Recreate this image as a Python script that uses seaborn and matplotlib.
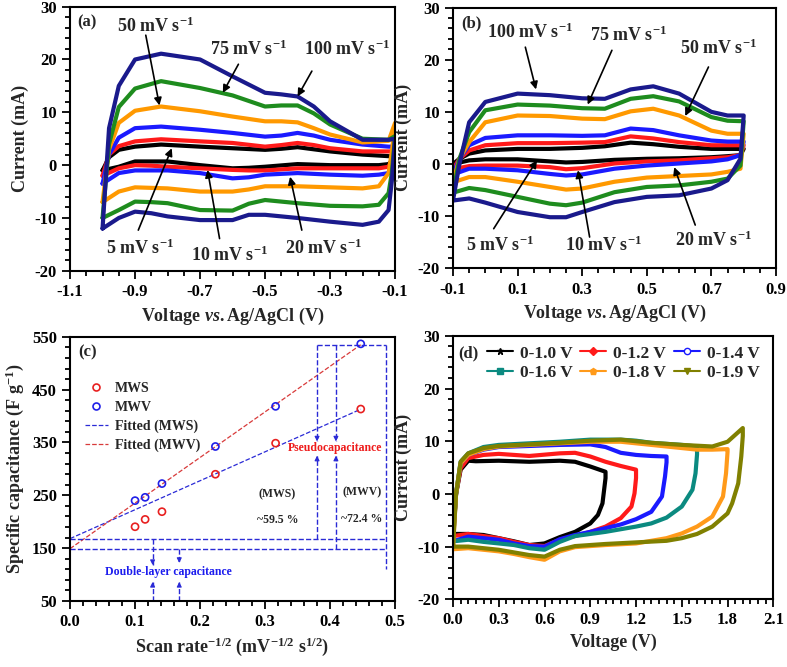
import matplotlib
matplotlib.use("Agg")
import numpy as np
import matplotlib.pyplot as plt
from matplotlib.lines import Line2D
from matplotlib.ticker import FixedLocator, FormatStrFormatter
import seaborn as sns

sns.set_style("ticks")
plt.rcParams['font.family'] = ['Liberation Serif', 'DejaVu Serif']
plt.rcParams['font.weight'] = 'bold'
plt.rcParams['axes.labelweight'] = 'bold'
plt.rcParams['axes.unicode_minus'] = False
plt.rcParams['mathtext.fontset'] = 'custom'
plt.rcParams['mathtext.rm'] = 'Liberation Serif:bold'
plt.rcParams['mathtext.it'] = 'Liberation Serif:italic:bold'
plt.rcParams['mathtext.bf'] = 'Liberation Serif:bold'

# ---- data ----
scan_rates = ['5', '10', '20', '50', '75', '100']
rate_colors = ['black', '#ff1a1a', '#1a1aff', '#ff9900', '#1e8c1e', '#1a1a8c']

# (a) MWS, forward (upper) and reverse (lower) sweeps
a_up_v = [-1.0, -0.98, -0.95, -0.9, -0.82, -0.7, -0.6, -0.5, -0.45, -0.4, -0.35, -0.3, -0.2, -0.12, -0.1]
a_up_5 = [-1, 1.5, 2.9, 3.5, 3.9, 3.5, 3.2, 2.9, 3.1, 3.4, 3.0, 2.6, 2.0, 1.7, 1.6]
a_up_10 = [-2, 2, 3.6, 4.5, 4.9, 4.5, 4.2, 3.5, 3.8, 4.2, 3.8, 3.2, 2.6, 2.6, 2.6]
a_up_20 = [-3.5, 2, 5.2, 7.0, 7.3, 6.7, 6.1, 5.4, 5.6, 6.1, 5.6, 4.8, 3.9, 3.5, 3.5]
a_up_50 = [-7, 3, 8, 10.3, 11.1, 10.2, 9.2, 8.3, 8.3, 8.1, 7.0, 5.8, 4.3, 4.6, 8.0]
a_up_75 = [-10, 4, 11, 14.5, 15.9, 14.6, 13.2, 11.1, 11.3, 11.3, 9.8, 7.7, 5.0, 4.8, 5.5]
a_up_100 = [-12, 7, 15, 20, 21.1, 20, 16.8, 13.7, 13.4, 13.0, 11.1, 8.3, 4.8, 4.8, 5.0]

a_lo_v = [-0.1, -0.11, -0.12, -0.15, -0.2, -0.3, -0.4, -0.5, -0.55, -0.6, -0.7, -0.8, -0.85, -0.9, -0.95, -1.0]
a_lo_5 = [1.6, 0.8, 0.2, 0.0, 0.0, 0.0, 0.2, -0.3, -0.5, -0.6, 0.0, 0.7, 0.7, 0.7, -0.3, -1]
a_lo_10 = [2.6, 1.0, -0.3, -0.6, -0.6, -0.6, -0.6, -1.0, -1.0, -0.9, -0.6, -0.3, -0.1, 0.0, -0.6, -2]
a_lo_20 = [3.5, 0.5, -1.5, -1.8, -2.0, -1.8, -1.5, -1.8, -2.3, -2.5, -1.5, -1.0, -1.0, -1.0, -1.5, -3.5]
a_lo_50 = [8.0, 2.5, -1.5, -4.0, -4.4, -4.2, -4.0, -4.0, -4.6, -5.0, -5.0, -4.4, -4.3, -4.2, -5.0, -7]
a_lo_75 = [5.5, -1.5, -5.3, -7.5, -7.8, -7.7, -7.2, -6.6, -7.3, -8.6, -8.5, -7.2, -7.0, -6.9, -8.5, -10]
a_lo_100 = [5.0, -3, -8.5, -10.7, -11.3, -10.7, -10.0, -9.4, -9.4, -10.4, -10.4, -9.7, -9.1, -8.8, -10, -12]

# (b) MWV
b_up_v = [-0.1, -0.08, -0.05, 0.0, 0.1, 0.2, 0.3, 0.37, 0.45, 0.52, 0.6, 0.7, 0.75, 0.8]
b_up_5 = [0, 1, 2.0, 2.6, 2.9, 2.9, 3.1, 3.4, 4.1, 3.8, 3.3, 2.9, 2.9, 2.9]
b_up_10 = [-1, 1, 2.6, 3.6, 4.0, 4.0, 4.1, 4.2, 5.3, 4.9, 4.2, 3.6, 3.6, 3.6]
b_up_20 = [-2, 1, 3.6, 5.0, 5.5, 5.5, 5.4, 5.5, 6.8, 6.5, 5.5, 4.5, 4.3, 4.3]
b_up_50 = [-3.5, 1, 4.2, 8.0, 9.3, 9.2, 8.7, 8.6, 10.1, 10.6, 9.3, 6.4, 5.8, 5.8]
b_up_75 = [-5.5, 1, 6.1, 10.3, 11.4, 11.2, 10.7, 10.6, 12.5, 13.0, 12.0, 9.0, 8.3, 8.2]
b_up_100 = [-7, 0, 8, 11.9, 13.5, 13.2, 12.6, 12.5, 14.3, 14.9, 13.5, 10.0, 9.3, 9.3]

b_lo_v = [0.8, 0.79, 0.75, 0.7, 0.6, 0.5, 0.4, 0.3, 0.25, 0.2, 0.1, 0.0, -0.05, -0.1]
b_lo_5 = [2.9, 1.7, 1.5, 1.3, 1.1, 1.0, 0.8, 0.4, 0.3, 0.5, 0.9, 0.9, 0.7, 0]
b_lo_10 = [3.6, 1.7, 1.3, 1.1, 0.7, 0.5, 0.1, -0.8, -1.0, -0.6, -0.3, -0.3, -0.4, -1]
b_lo_20 = [4.3, 1.7, 0.9, 0.5, 0.1, -0.3, -0.9, -2.0, -2.2, -1.9, -1.2, -0.9, -0.9, -2]
b_lo_50 = [5.8, -0.9, -1.5, -2.0, -2.3, -2.6, -3.4, -4.7, -4.9, -4.4, -3.4, -2.5, -2.5, -3.5]
b_lo_75 = [8.2, -0.3, -2.8, -3.4, -4.1, -4.4, -5.4, -7.4, -7.9, -7.6, -6.3, -5.0, -4.6, -5.5]
b_lo_100 = [9.3, 1.0, -3.1, -4.7, -6.0, -6.3, -7.3, -9.2, -10.2, -10.2, -9.2, -7.4, -6.6, -7]

# (c) specific capacitance vs scan rate^-1/2
c_x = [0.1, 0.1155, 0.1414, 0.2236, 0.3162, 0.4472]
c_mws = [190.5, 204.4, 219, 289.9, 348.7, 413.3]
c_mwv = [239.9, 246.2, 272.2, 342.4, 418.4, 536.7]
fit_x = [0.0, 0.4472]
fit_mws = [168, 413]
fit_mwv = [149, 535]

# (d) full cell at different voltage windows
d_labels = ['0-1.0 V', '0-1.2 V', '0-1.4 V', '0-1.6 V', '0-1.8 V', '0-1.9 V']
d_colors = ['black', '#ff1a1a', '#1a1aff', '#0b8a80', '#ff9a1a', '#808000']
d_markers = ['*', 'D', 'o', 's', 'p', 'v']
d10_v = [0, 0.02, 0.05, 0.1, 0.15, 0.3, 0.5, 0.7, 0.8, 0.9, 1.0, 1.0, 0.98, 0.95, 0.9, 0.8, 0.7, 0.6, 0.5, 0.4, 0.3, 0.2, 0.1, 0.02, 0]
d10_i = [-8, 0, 4.6, 6.3, 6.2, 6.3, 6.1, 6.3, 6.1, 5.2, 4.2, 3.0, -1.8, -4.0, -5.6, -7.2, -8.2, -9.4, -9.7, -9.0, -8.4, -7.8, -7.6, -7.6, -8]
d12_v = [0, 0.02, 0.05, 0.1, 0.2, 0.3, 0.5, 0.7, 0.8, 0.9, 1.0, 1.1, 1.2, 1.2, 1.19, 1.17, 1.1, 1.0, 0.9, 0.8, 0.7, 0.6, 0.5, 0.4, 0.3, 0.2, 0.1, 0]
d12_i = [-8, 0, 4.9, 6.8, 7.4, 7.6, 7.2, 7.7, 7.8, 7.1, 6.1, 5.3, 4.6, 3.0, 0.1, -2.4, -4.6, -6.2, -7.2, -8.0, -8.7, -9.9, -9.7, -9.1, -8.4, -8.0, -7.6, -8]
d14_v = [0, 0.02, 0.05, 0.1, 0.2, 0.3, 0.5, 0.7, 0.9, 1.0, 1.1, 1.2, 1.3, 1.4, 1.4, 1.39, 1.37, 1.3, 1.2, 1.1, 1.0, 0.9, 0.8, 0.7, 0.6, 0.5, 0.4, 0.3, 0.2, 0.1, 0]
d14_i = [-9, 0, 5.8, 7.4, 8.4, 8.9, 9.1, 9.3, 9.4, 8.9, 7.8, 7.4, 7.2, 7.1, 6.0, 3.3, -0.5, -3.4, -4.8, -5.8, -6.5, -7.2, -7.8, -8.6, -10.0, -9.9, -9.4, -8.7, -8.4, -8.1, -9]
d16_v = [0, 0.02, 0.05, 0.1, 0.2, 0.3, 0.5, 0.7, 0.9, 1.1, 1.2, 1.3, 1.4, 1.5, 1.6, 1.6, 1.59, 1.57, 1.5, 1.4, 1.3, 1.2, 1.0, 0.8, 0.7, 0.6, 0.5, 0.4, 0.3, 0.2, 0.1, 0]
d16_i = [-9, 0, 6.1, 7.7, 8.9, 9.3, 9.6, 9.9, 10.3, 10.3, 10.1, 9.7, 9.5, 9.3, 9.0, 7.5, 3.9, 0.8, -2.4, -4.5, -5.6, -6.2, -7.2, -8.0, -9.1, -10.6, -10.3, -9.7, -9.4, -9.1, -8.7, -9]
d18_v = [0, 0.02, 0.05, 0.1, 0.2, 0.3, 0.5, 0.7, 0.9, 1.1, 1.3, 1.5, 1.6, 1.7, 1.8, 1.8, 1.79, 1.77, 1.7, 1.6, 1.5, 1.4, 1.2, 1.0, 0.8, 0.7, 0.6, 0.5, 0.4, 0.3, 0.2, 0.1, 0]
d18_i = [-10.5, 0, 5.8, 7.4, 8.5, 9.0, 9.3, 9.6, 9.9, 9.9, 9.3, 8.7, 8.4, 8.4, 8.5, 8.0, 3.9, -0.5, -4.3, -6.2, -7.5, -8.4, -9.4, -9.7, -10.1, -10.9, -12.5, -12.0, -11.4, -10.9, -10.6, -10.3, -10.5]
d19_v = [0, 0.02, 0.05, 0.1, 0.2, 0.3, 0.5, 0.7, 0.9, 1.1, 1.3, 1.5, 1.7, 1.8, 1.85, 1.9, 1.9, 1.89, 1.87, 1.83, 1.8, 1.7, 1.6, 1.5, 1.4, 1.2, 1.0, 0.8, 0.7, 0.6, 0.5, 0.4, 0.3, 0.2, 0.1, 0]
d19_i = [-10, 0, 6.1, 7.7, 8.7, 9.1, 9.4, 9.7, 10.1, 10.3, 9.7, 9.3, 9.0, 9.9, 11.2, 12.5, 11.0, 7.1, 2.0, -1.8, -3.7, -6.2, -7.6, -8.4, -8.9, -9.2, -9.5, -9.9, -10.6, -11.9, -11.6, -11.1, -10.6, -10.3, -10.0, -10]

a_up = [a_up_5, a_up_10, a_up_20, a_up_50, a_up_75, a_up_100]
a_lo = [a_lo_5, a_lo_10, a_lo_20, a_lo_50, a_lo_75, a_lo_100]
b_up = [b_up_5, b_up_10, b_up_20, b_up_50, b_up_75, b_up_100]
b_lo = [b_lo_5, b_lo_10, b_lo_20, b_lo_50, b_lo_75, b_lo_100]
d_v = [d10_v, d12_v, d14_v, d16_v, d18_v, d19_v]
d_i = [d10_i, d12_i, d14_i, d16_i, d18_i, d19_i]


def style_axes(ax, xticks, xminor, yticks, yminor, xlim, ylim, xfmt):
    ax.set_xlim(*xlim)
    ax.set_ylim(*ylim)
    ax.xaxis.set_major_locator(FixedLocator(xticks))
    ax.xaxis.set_minor_locator(FixedLocator(xminor))
    ax.yaxis.set_major_locator(FixedLocator(yticks))
    ax.yaxis.set_minor_locator(FixedLocator(yminor))
    ax.xaxis.set_major_formatter(FormatStrFormatter(xfmt))
    ax.tick_params(which='both', direction='out', top=False, right=False,
                   width=1.3, labelsize=12, colors='black')
    ax.tick_params(which='major', length=6)
    ax.tick_params(which='minor', length=3.5)
    for s in ax.spines.values():
        s.set_linewidth(1.5)
        s.set_color('black')
    for lab in ax.get_xticklabels() + ax.get_yticklabels():
        lab.set_fontweight('bold')


def draw_cv(ax, up_v, ups, lo_v, los):
    for up, lo, col in zip(ups, los, rate_colors):
        sns.lineplot(x=up_v + lo_v, y=up + lo, sort=False, estimator=None,
                     color=col, lw=3.0, ax=ax)


def rate_note(ax, rate, text_xy, tail, head):
    ax.annotate('', xy=head, xytext=tail,
                arrowprops=dict(arrowstyle='-|>', color='black', lw=1.2,
                                mutation_scale=11, shrinkA=0, shrinkB=0))
    ax.text(text_xy[0], text_xy[1], rate + r' mV s$^{-1}$', fontsize=13,
            ha='center', va='center', fontweight='bold')


fig = plt.figure(figsize=(7.87, 6.67), dpi=100)
ax_a = fig.add_axes([0.089, 0.594, 0.413, 0.396])
ax_b = fig.add_axes([0.5756, 0.5977, 0.4104, 0.391])
ax_c = fig.add_axes([0.089, 0.099, 0.413, 0.396])
ax_d = fig.add_axes([0.5756, 0.1015, 0.407, 0.395])

cur_ticks = np.arange(-20, 31, 10)
cur_minor = np.arange(-20, 31, 2)

# ---- (a) ----
draw_cv(ax_a, a_up_v, a_up, a_lo_v, a_lo)
style_axes(ax_a, np.arange(-1.1, -0.05, 0.2), np.arange(-1.1, -0.09, 0.05),
           cur_ticks, cur_minor, (-1.1, -0.1), (-20, 30), '%.1f')
ax_a.set_xlabel(r'Voltage $\mathit{vs.}$Ag/AgCl (V)', fontsize=13)
ax_a.set_ylabel('Current (mA)', fontsize=13)
ax_a.text(0.023, 0.94, '(a)', transform=ax_a.transAxes, fontsize=12, va='center')
rate_note(ax_a, '50', (-0.838, 26.3), (-0.867, 24.6), (-0.825, 11.3))
rate_note(ax_a, '75', (-0.551, 22.0), (-0.582, 19.1), (-0.630, 13.7))
rate_note(ax_a, '100', (-0.249, 22.0), (-0.356, 17.8), (-0.40, 13.0))
rate_note(ax_a, '5', (-0.885, -15.8), (-0.89, -12.3), (-0.787, 3.2))
rate_note(ax_a, '10', (-0.608, -17.0), (-0.64, -13.9), (-0.677, -0.9))
rate_note(ax_a, '20', (-0.32, -15.8), (-0.387, -12.3), (-0.423, -2.2))

# ---- (b) ----
draw_cv(ax_b, b_up_v, b_up, b_lo_v, b_lo)
style_axes(ax_b, np.arange(-0.1, 0.95, 0.2), np.arange(-0.1, 0.91, 0.05),
           cur_ticks, cur_minor, (-0.1, 0.9), (-20, 30), '%.1f')
ax_b.set_xlabel(r'Voltage $\mathit{vs.}$Ag/AgCl (V)', fontsize=13)
ax_b.set_ylabel('Current (mA)', fontsize=13)
ax_b.text(0.025, 0.94, '(b)', transform=ax_b.transAxes, fontsize=12, va='center')
rate_note(ax_b, '100', (0.139, 25.3), (0.124, 22.4), (0.157, 14.3))
rate_note(ax_b, '75', (0.443, 24.6), (0.392, 21.8), (0.317, 11.4))
rate_note(ax_b, '50', (0.722, 22.1), (0.691, 18.6), (0.619, 9.2))
rate_note(ax_b, '5', (0.046, -15.5), (0.026, -12.4), (0.16, 0.7))
rate_note(ax_b, '10', (0.366, -15.6), (0.323, -14.0), (0.287, -1.2))
rate_note(ax_b, '20', (0.706, -14.6), (0.65, -11.7), (0.585, -0.6))

# ---- (c) ----
blue_c = '#2a2ad6'
red_c = '#d83a3a'
sns.lineplot(x=fit_x, y=fit_mws, color=blue_c, lw=0.9, linestyle='--', ax=ax_c)
sns.lineplot(x=fit_x, y=fit_mwv, color=red_c, lw=0.9, linestyle='--', ax=ax_c)
sns.scatterplot(x=c_x, y=c_mws, ax=ax_c, s=26, marker='o',
                facecolor='none', edgecolor='#e82020', linewidth=1.2, zorder=3)
sns.scatterplot(x=c_x, y=c_mwv, ax=ax_c, s=26, marker='o',
                facecolor='none', edgecolor='#2020e8', linewidth=1.2, zorder=3)

ref = dict(color=blue_c, lw=1.0, ls='--')
ax_c.plot([0, 0.486], [fit_mws[0], fit_mws[0]], **ref)
ax_c.plot([0, 0.486], [fit_mwv[0], fit_mwv[0]], **ref)
ax_c.plot([0.38, 0.486], [fit_mwv[1], fit_mwv[1]], **ref)
ax_c.plot([0.486, 0.486], [fit_mwv[1], 111], **ref)


def dash_arrow(ax, x, y0, y1):
    ax.plot([x, x], [y0, y1], **ref)
    ax.annotate('', xy=(x, y1), xytext=(x, y1 + (6 if y0 > y1 else -6)),
                arrowprops=dict(arrowstyle='-|>', color=blue_c, lw=0.8,
                                mutation_scale=7, shrinkA=0, shrinkB=0))


dash_arrow(ax_c, 0.38, fit_mwv[1], 352)
dash_arrow(ax_c, 0.38, fit_mws[0], 325)
dash_arrow(ax_c, 0.409, fit_mwv[1], 352)
dash_arrow(ax_c, 0.409, fit_mwv[0], 325)
dash_arrow(ax_c, 0.127, fit_mws[0], 118)
dash_arrow(ax_c, 0.127, 50, 86)
dash_arrow(ax_c, 0.168, fit_mwv[0], 122)
dash_arrow(ax_c, 0.168, 50, 86)

ax_c.text(0.408, 339, 'Pseudocapacitance', color='#ee1c1c', fontsize=8.5,
          ha='center', va='center')
ax_c.text(0.152, 104, 'Double-layer capacitance', color='#1c1cee', fontsize=8.5,
          ha='center', va='center')
ax_c.text(0.318, 252, '(MWS)', fontsize=8.5, ha='center', va='center')
ax_c.text(0.320, 203, '~59.5 %', fontsize=8.5, ha='center', va='center')
ax_c.text(0.449, 255, '(MWV)', fontsize=8.5, ha='center', va='center')
ax_c.text(0.449, 206, '~72.4 %', fontsize=8.5, ha='center', va='center')
ax_c.text(0.025, 0.94, '(c)', transform=ax_c.transAxes, fontsize=12, va='center')

style_axes(ax_c, np.arange(0, 0.51, 0.1), np.arange(0, 0.51, 0.02),
           np.arange(50, 551, 100), np.arange(50, 551, 20), (0, 0.5), (50, 550), '%.1f')
ax_c.set_xlabel(r'Scan rate$^{-1/2}$ (mV$^{-1/2}$ s$^{1/2}$)', fontsize=13)
ax_c.set_ylabel(r'Specific capacitance (F g$^{-1}$)', fontsize=13)
c_handles = [
    Line2D([], [], ls='none', marker='o', mfc='none', mec='#e82020', mew=1.2, ms=5),
    Line2D([], [], ls='none', marker='o', mfc='none', mec='#2020e8', mew=1.2, ms=5),
    Line2D([], [], color=blue_c, lw=0.9, ls='--'),
    Line2D([], [], color=red_c, lw=0.9, ls='--'),
]
ax_c.legend(c_handles, ['MWS', 'MWV', 'Fitted (MWS)', 'Fitted (MWV)'],
            loc='upper left', bbox_to_anchor=(0.03, 0.85), frameon=False,
            fontsize=10, handlelength=1.6, handletextpad=0.5, labelspacing=0.42,
            borderaxespad=0)

# ---- (d) ----
for v, i, col in zip(d_v, d_i, d_colors):
    sns.lineplot(x=v, y=i, sort=False, estimator=None, color=col, lw=3.0, ax=ax_d)
style_axes(ax_d, np.arange(0, 2.11, 0.3), np.arange(0, 2.11, 0.05),
           cur_ticks, cur_minor, (0, 2.1), (-20, 30), '%.1f')
ax_d.set_xlabel('Voltage (V)', fontsize=13)
ax_d.set_ylabel('Current (mA)', fontsize=13)
ax_d.text(0.015, 0.935, '(d)', transform=ax_d.transAxes, fontsize=12, va='center')
d_handles = [Line2D([], [], color=col, lw=1.5, marker=m, ms=4.5,
                    mfc=col if m != 'o' else 'white', mec=col)
             for col, m in zip(d_colors, d_markers)]
# legend fills column-wise: reorder so rows read 1.0/1.2/1.4 then 1.6/1.8/1.9
order = [0, 3, 1, 4, 2, 5]
ax_d.legend([d_handles[k] for k in order], [d_labels[k] for k in order],
            ncol=3, loc='upper left', bbox_to_anchor=(0.075, 1.0), frameon=False,
            fontsize=12.5, handlelength=1.5, handletextpad=0.4, columnspacing=0.45,
            labelspacing=0.2, borderaxespad=0.15)

fig.savefig('out.png', dpi=100)
